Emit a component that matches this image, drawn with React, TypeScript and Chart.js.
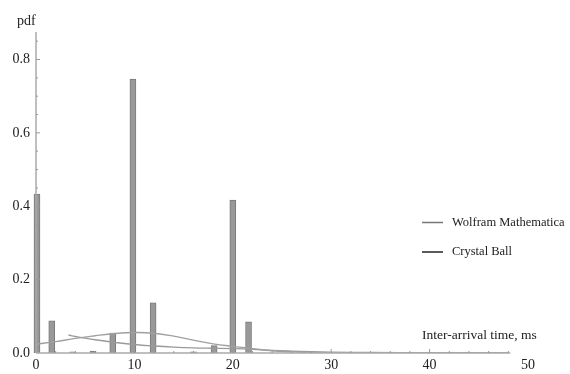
import React, { useEffect, useRef } from "react";
import { Chart, registerables } from "chart.js";

Chart.register(...registerables);

const barX = [0.1, 1.6, 3.75, 5.8, 7.8, 9.85, 11.9, 16.0, 18.1, 20.0, 21.6];
const barY = [0.433, 0.088, 0.003, 0.005, 0.054, 0.747, 0.137, 0.003, 0.02, 0.417, 0.085];

const wolframX = [0, 2, 4, 6, 8, 10, 12, 14, 16, 18, 20, 22, 24, 26, 28, 30, 34, 40, 48];
const wolframY = [0.024, 0.031, 0.04, 0.047, 0.053, 0.056, 0.054, 0.046, 0.035, 0.025, 0.018, 0.012, 0.006, 0.003, 0.0015, 0.0007, 0.0002, 0, 0];

const crystalX = [3.3, 4, 6, 8, 10, 12, 14, 16, 18, 20, 22, 24, 26, 28, 30, 34, 40, 48];
const crystalY = [0.049, 0.045, 0.036, 0.029, 0.023, 0.019, 0.016, 0.014, 0.013, 0.012, 0.01, 0.007, 0.005, 0.0035, 0.0025, 0.0012, 0.0005, 0.0002];

const legendLabels = ["Wolfram Mathematica", "Crystal Ball"];
const legendColors = ["#777777", "#222222"];
const yTitle = "pdf";
const xTitle = "Inter-arrival time, ms";

const X_AXIS_END = 48.2;
const Y_MAX = 0.875;
const FONT = "'Liberation Serif', 'Times New Roman', serif";

const axesPlugin = {
  id: "mmaAxes",
  afterDatasetsDraw(chart: any) {
    const ctx = chart.ctx;
    const xs = chart.scales.x;
    const ys = chart.scales.y;
    const x0 = xs.getPixelForValue(0);
    const y0 = ys.getPixelForValue(0);
    ctx.save();
    ctx.strokeStyle = "#aaaaaa";
    ctx.lineWidth = 1.5;
    ctx.beginPath();
    ctx.moveTo(x0, ys.getPixelForValue(Y_MAX));
    ctx.lineTo(x0, y0);
    ctx.stroke();
    ctx.beginPath();
    ctx.moveTo(x0, y0);
    ctx.lineTo(xs.getPixelForValue(X_AXIS_END), y0);
    ctx.stroke();
    ctx.lineWidth = 1;
    ctx.strokeStyle = "#999999";
    for (let v = 0.05; v <= Y_MAX; v += 0.05) {
      const major = Math.abs(v / 0.2 - Math.round(v / 0.2)) < 1e-6;
      const py = ys.getPixelForValue(v);
      ctx.beginPath();
      ctx.moveTo(x0, py);
      ctx.lineTo(x0 + (major ? 4 : 2), py);
      ctx.stroke();
    }
    for (let v = 2; v <= X_AXIS_END; v += 2) {
      const major = v % 10 === 0;
      const px = xs.getPixelForValue(v);
      ctx.beginPath();
      ctx.moveTo(px, y0);
      ctx.lineTo(px, y0 - (major ? 4 : 2));
      ctx.stroke();
    }
    ctx.fillStyle = "#222222";
    ctx.font = `14px ${FONT}`;
    ctx.textBaseline = "alphabetic";
    ctx.textAlign = "left";
    ctx.fillText(yTitle, 17, 25);
    ctx.font = `13.5px ${FONT}`;
    ctx.fillText(xTitle, 422, 339);
    ctx.font = `12.5px ${FONT}`;
    ctx.textBaseline = "middle";
    legendLabels.forEach((lab, i) => {
      const ly = 222.5 + i * 29.5;
      ctx.strokeStyle = legendColors[i];
      ctx.lineWidth = 1.5;
      ctx.beginPath();
      ctx.moveTo(422, ly);
      ctx.lineTo(443, ly);
      ctx.stroke();
      ctx.fillStyle = "#222222";
      ctx.fillText(lab, 452, ly);
    });
    ctx.restore();
  },
};

export default function App() {
  const ref = useRef<HTMLCanvasElement>(null);
  useEffect(() => {
    if (!ref.current) return;
    const chart = new Chart(ref.current, {
      type: "bar",
      data: {
        datasets: [
          {
            type: "bar",
            label: "pdf",
            data: barX.map((x, i) => ({ x, y: barY[i] })),
            backgroundColor: "#999999",
            borderColor: "#7a7a7a",
            borderWidth: 1,
            barThickness: 6,
            clip: false,
            order: 2,
          } as any,
          {
            type: "line",
            label: legendLabels[0],
            data: wolframX.map((x, i) => ({ x, y: wolframY[i] })),
            borderColor: "#a0a0a0",
            borderWidth: 1.4,
            pointRadius: 0,
            tension: 0.4,
            fill: false,
            order: 1,
          } as any,
          {
            type: "line",
            label: legendLabels[1],
            data: crystalX.map((x, i) => ({ x, y: crystalY[i] })),
            borderColor: "#9a9a9a",
            borderWidth: 1.4,
            pointRadius: 0,
            tension: 0.4,
            fill: false,
            order: 1,
          } as any,
        ],
      },
      options: {
        animation: false,
        responsive: false,
        maintainAspectRatio: false,
        layout: { padding: { top: 32, right: 42, left: 0, bottom: 0 } },
        plugins: { legend: { display: false }, tooltip: { enabled: false } },
        scales: {
          x: {
            type: "linear",
            min: 0,
            max: 50,
            offset: false,
            grid: { display: false, offset: false, drawTicks: false },
            border: { display: false },
            ticks: {
              stepSize: 10,
              padding: 4,
              color: "#222222",
              font: { family: FONT, size: 14 },
              maxRotation: 0,
              callback: (v: any) => String(v),
            },
            afterFit: (s: any) => {
              s.height = 21;
            },
          },
          y: {
            type: "linear",
            min: 0,
            max: Y_MAX,
            grid: { display: false, drawTicks: false },
            border: { display: false },
            ticks: {
              stepSize: 0.2,
              includeBounds: false,
              padding: 6,
              color: "#222222",
              font: { family: FONT, size: 14 },
              callback: (v: any) => Number(v).toFixed(1),
            },
            afterFit: (s: any) => {
              s.width = 36;
            },
          },
        },
      } as any,
      plugins: [axesPlugin],
    });
    return () => chart.destroy();
  }, []);
  return (
    <div style={{ position: "absolute", left: 0, top: 0, width: 570, height: 374, background: "#fff" }}>
      <canvas ref={ref} width={570} height={374} style={{ width: 570, height: 374 }} />
    </div>
  );
}
